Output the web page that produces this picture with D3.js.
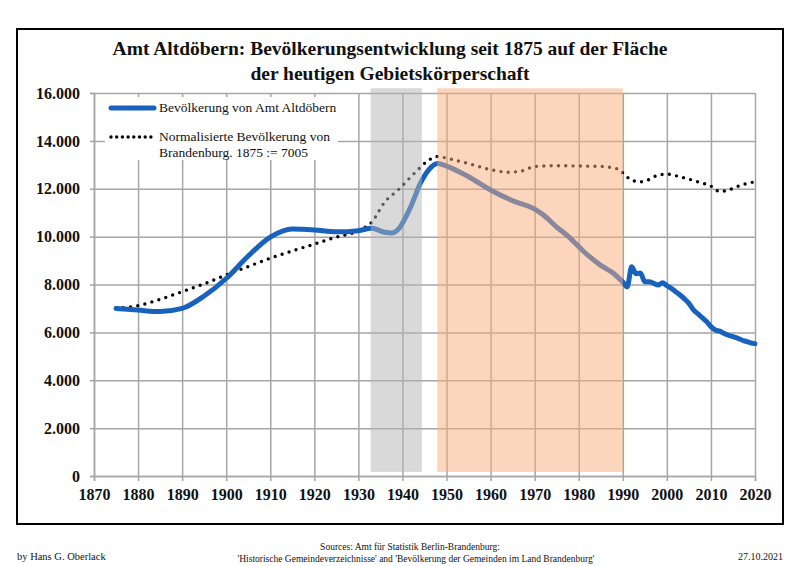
<!DOCTYPE html>
<html><head><meta charset="utf-8">
<script src="https://cdn.jsdelivr.net/npm/d3@7"></script>
<style>body{margin:0;background:#fff}svg{display:block}</style>
</head><body>
<svg id="c" width="800" height="566"></svg>
<script>
// ---- data ----
const popYears = [1875,1880,1885,1890,1895,1900,1905,1910,1915,1920,1925,1930,1933,1936,1937.5,1939,1942,1944,1946,1948,1950,1955,1960,1965,1970,1972,1975,1978,1981,1985,1988,1990,1991,1992,1993,1994,1995,1996,1997,1998,1999,2000,2001,2002,2003,2004,2005,2006,2007,2008,2009,2010,2011,2012,2013,2014,2015,2016,2017,2018,2019,2020];
const popValues = [7000,6930,6870,7000,7520,8250,9190,9980,10320,10280,10200,10250,10350,10180,10150,10300,11300,12200,12800,13050,12950,12500,11950,11500,11150,10900,10400,9950,9400,8800,8450,8100,7900,8740,8450,8480,8120,8120,8050,7980,8070,7950,7840,7700,7560,7400,7210,6950,6780,6620,6450,6240,6100,6050,5950,5880,5820,5760,5680,5620,5560,5530];
const bbYears = [1875,1880,1885,1890,1895,1900,1905,1910,1915,1920,1925,1930,1933,1936,1939,1943,1946,1948,1950,1955,1960,1964,1967,1970,1975,1980,1985,1989,1990.5,1992,1994,1996,1998,2000,2003,2007,2010,2012,2014,2017,2020];
const bbValues = [7005,7120,7380,7700,8030,8400,8750,9100,9400,9690,9980,10250,10600,11450,11950,12700,13200,13350,13280,13050,12800,12690,12740,12930,12960,12950,12930,12820,12570,12360,12290,12390,12570,12610,12500,12290,12110,11880,11950,12160,12290];
const shadeStart = [1932.8, 1947.9];
const shadeEnd = [1944.4, 1990];
const xTicks = [1870,1880,1890,1900,1910,1920,1930,1940,1950,1960,1970,1980,1990,2000,2010,2020];
const yTicks = [0,2000,4000,6000,8000,10000,12000,14000,16000];
const yTickLabels = ["0","2.000","4.000","6.000","8.000","10.000","12.000","14.000","16.000"];
const titleLines = ["Amt Altdöbern: Bevölkerungsentwicklung seit 1875 auf der Fläche","der heutigen Gebietskörperschaft"];
const legendLabels = ["Bevölkerung von Amt Altdöbern","Normalisierte Bevölkerung von","Brandenburg. 1875 := 7005"];

// ---- drawing ----
const svg = d3.select("#c");
const serif = "'Liberation Serif','DejaVu Serif',serif";
const x = d3.scaleLinear().domain([1870,2020]).range([94,755]);
const y = d3.scaleLinear().domain([0,16000]).range([476,93]);
const grid = "#a6a6a6";

svg.append("rect").attr("x",17).attr("y",29).attr("width",766).attr("height",495)
  .attr("fill","#fff").attr("stroke","#000").attr("stroke-width",2);

// gridlines
svg.append("g").attr("transform","translate(94,0)")
  .call(d3.axisLeft(y).tickValues(yTicks).tickSize(-661).tickFormat(""))
  .call(g=>g.select(".domain").remove())
  .call(g=>g.selectAll("line").attr("stroke",grid).attr("stroke-width",1.5));
svg.append("g").attr("transform","translate(0,476)")
  .call(d3.axisBottom(x).tickValues(xTicks).tickSize(-383).tickFormat(""))
  .call(g=>g.select(".domain").remove())
  .call(g=>g.selectAll("line").attr("stroke",grid).attr("stroke-width",1.5));

// axes
const yAxis = svg.append("g").attr("transform","translate(94,0)")
  .call(d3.axisLeft(y).tickValues(yTicks).tickSize(4).tickPadding(10).tickFormat((d,i)=>yTickLabels[i]));
const xAxis = svg.append("g").attr("transform","translate(0,476)")
  .call(d3.axisBottom(x).tickValues(xTicks).tickSize(5).tickPadding(8).tickFormat(d3.format("d")));
[yAxis,xAxis].forEach(a=>{
  a.select(".domain").attr("stroke",grid).attr("stroke-width",1.5);
  a.selectAll(".tick line").attr("stroke",grid).attr("stroke-width",1.5);
  a.selectAll("text").attr("font-family",serif).attr("font-weight","bold").attr("font-size",16).attr("fill","#111");
});

// lines
const bbData = bbYears.map((d,i)=>[d,bbValues[i]]);
const popData = popYears.map((d,i)=>[d,popValues[i]]);
const line = d3.line().x(d=>x(d[0])).y(d=>y(d[1])).curve(d3.curveMonotoneX);
svg.append("path").datum(bbData).attr("d",line).attr("fill","none")
  .attr("stroke","#000").attr("stroke-width",3.4).attr("stroke-linecap","round")
  .attr("stroke-dasharray","0,7.3");
svg.append("path").datum(popData).attr("d",line).attr("fill","none")
  .attr("stroke","#1862be").attr("stroke-width",5).attr("stroke-linejoin","round").attr("stroke-linecap","round");

// shading
const shadeFill = ["#b3b3b3","#f8ab79"];
svg.append("g").selectAll("rect").data(shadeStart).join("rect")
  .attr("x",d=>x(d)).attr("width",(d,i)=>x(shadeEnd[i])-x(d))
  .attr("y",y(16200)).attr("height",y(170)-y(16200))
  .attr("fill",(d,i)=>shadeFill[i]).attr("opacity",0.5);

// legend
const lg = svg.append("g");
lg.append("rect").attr("x",105).attr("y",97).attr("width",233).attr("height",63).attr("fill","#fff");
lg.append("line").attr("x1",111).attr("x2",154).attr("y1",108).attr("y2",108)
  .attr("stroke","#1862be").attr("stroke-width",5).attr("stroke-linecap","round");
lg.append("line").attr("x1",111).attr("x2",151).attr("y1",137).attr("y2",137)
  .attr("stroke","#000").attr("stroke-width",3.4).attr("stroke-linecap","round").attr("stroke-dasharray","0,5.7");
lg.selectAll("text").data(legendLabels).join("text")
  .attr("x",159).attr("y",(d,i)=>[112,141,157][i])
  .attr("font-family",serif).attr("font-size",13.5).attr("fill","#111").text(d=>d);

// title
svg.append("g").selectAll("text").data(titleLines).join("text")
  .attr("x",390).attr("y",(d,i)=>[55,80][i]).attr("text-anchor","middle")
  .attr("font-family",serif).attr("font-weight","bold").attr("font-size",19.5).attr("fill","#111").text(d=>d);

// footer
const ft = svg.append("g").attr("font-family",serif).attr("fill","#111");
ft.append("text").attr("x",17).attr("y",560).attr("font-size",10.5).text("by Hans G. Oberlack");
ft.append("text").attr("x",783).attr("y",560).attr("text-anchor","end").attr("font-size",10).text("27.10.2021");
ft.append("text").attr("x",410).attr("y",550).attr("text-anchor","middle").attr("font-size",9.5).text("Sources: Amt für Statistik Berlin-Brandenburg:");
ft.append("text").attr("x",416).attr("y",562).attr("text-anchor","middle").attr("font-size",9.5).text("'Historische Gemeindeverzeichnisse' and 'Bevölkerung der Gemeinden im Land Brandenburg'");
</script>
</body></html>
